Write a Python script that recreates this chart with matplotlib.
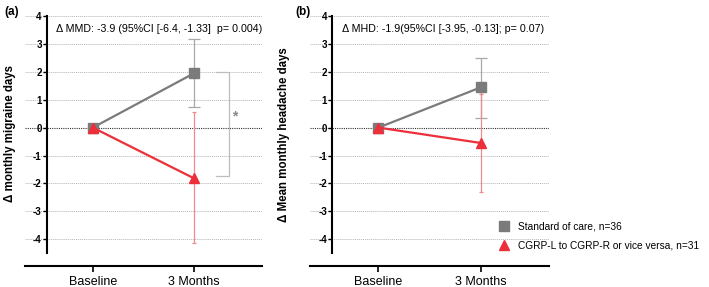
import matplotlib
matplotlib.use('Agg')
import matplotlib.pyplot as plt
from matplotlib.lines import Line2D

plt.rcParams['font.family'] = ['Liberation Sans', 'DejaVu Sans']

# data
timepoints = ['Baseline', '3 Months']
x_pos = [0, 1]

# (a) change in monthly migraine days
mmd_soc = [0, 1.95]
mmd_soc_lo = [0, 0.73]
mmd_soc_hi = [0, 3.17]
mmd_sw = [0, -1.82]
mmd_sw_lo = [0, -4.12]
mmd_sw_hi = [0, 0.55]

# (b) change in mean monthly headache days
mhd_soc = [0, 1.44]
mhd_soc_lo = [0, 0.35]
mhd_soc_hi = [0, 2.51]
mhd_sw = [0, -0.55]
mhd_sw_lo = [0, -2.31]
mhd_sw_hi = [0, 1.21]

yticks = [-4, -3, -2, -1, 0, 1, 2, 3, 4]

soc_color = '#7b7b7b'
soc_err = '#a8a8a8'
sw_color = '#ec2f3b'
sw_err = '#f08a8f'

W, H = 709, 287
fig = plt.figure(figsize=(W / 100, H / 100), dpi=100)


def px_axes(x0, x1, y_top, y_bot):
    return fig.add_axes([x0 / W, 1 - y_bot / H, (x1 - x0) / W, (y_bot - y_top) / H])


def draw_panel(ax, soc, soc_lo, soc_hi, sw, sw_lo, sw_hi):
    ax.set_xlim(-0.67, 1.67)
    ax.set_ylim(-4.96, 4.05)
    for y in yticks:
        if y == 0:
            ax.axhline(y, color='#333333', lw=0.8, ls=(0, (1, 1)), zorder=1)
        else:
            ax.axhline(y, color='#b5b5b5', lw=0.7, ls=(0, (1, 1)), zorder=1)

    # error bars (only at 3 months)
    ax.errorbar(x_pos[1], soc[1], yerr=[[soc[1] - soc_lo[1]], [soc_hi[1] - soc[1]]],
                fmt='none', ecolor=soc_err, elinewidth=0.9, capsize=4, capthick=0.9, zorder=2)
    ax.errorbar(x_pos[1], sw[1], yerr=[[sw[1] - sw_lo[1]], [sw_hi[1] - sw[1]]],
                fmt='none', ecolor=sw_err, elinewidth=0.9, capsize=1.5, capthick=0.9, zorder=2)

    ax.plot(x_pos, soc, color=soc_color, lw=1.6, marker='s', ms=6.5, zorder=3)
    ax.plot(x_pos, sw, color=sw_color, lw=1.6, marker='^', ms=7, zorder=4)

    ax.spines['top'].set_visible(False)
    ax.spines['right'].set_visible(False)
    ax.spines['left'].set_position(('data', -0.45))
    ax.spines['left'].set_bounds(-4.5, 4)
    ax.spines['left'].set_linewidth(1.5)
    ax.spines['bottom'].set_linewidth(1.5)

    ax.set_yticks(yticks)
    ax.set_yticklabels([str(v) for v in yticks], fontsize=7, fontweight='bold')
    ax.tick_params(axis='y', length=3, width=1, pad=1)
    ax.set_xticks(x_pos)
    ax.set_xticklabels(timepoints, fontsize=9)
    ax.tick_params(axis='x', length=4, width=1.2, pad=3)
    ax.patch.set_alpha(0)


# panel (a)
ax1 = px_axes(25, 262, 14.6, 266)
draw_panel(ax1, mmd_soc, mmd_soc_lo, mmd_soc_hi, mmd_sw, mmd_sw_lo, mmd_sw_hi)
ax1.text(-0.36, 3.55, '\u0394 MMD: -3.9 (95%CI [-6.4, -1.33]  p= 0.004)', fontsize=7.7,
         va='center', ha='left')
# significance bracket
bx0, bx1 = 1.22, 1.34
ax1.plot([bx0, bx1, bx1, bx0], [mmd_soc[1] + 0.05, mmd_soc[1] + 0.05, mmd_sw[1] + 0.1, mmd_sw[1] + 0.1],
         color='#bdbdbd', lw=0.9, zorder=2)
ax1.text(1.40, 0.4, '*', fontsize=10, color='#888888', ha='center', va='center', fontweight='bold')

# panel (b)
ax2 = px_axes(310, 549, 14.6, 266)
draw_panel(ax2, mhd_soc, mhd_soc_lo, mhd_soc_hi, mhd_sw, mhd_sw_lo, mhd_sw_hi)
ax2.text(-0.36, 3.55, '\u0394 MHD: -1.9(95%CI [-3.95, -0.13]; p= 0.07)', fontsize=7.7,
         va='center', ha='left')

# y labels and panel letters
fig.text(10 / W, 1 - 133 / H, '\u0394 monthly migraine days', rotation=90, fontsize=8.3,
         fontweight='bold', ha='center', va='center')
fig.text(284 / W, 1 - 135 / H, '\u0394 Mean monthly headache days', rotation=90, fontsize=8.3,
         fontweight='bold', ha='center', va='center')
fig.text(4 / W, 1 - 12 / H, '(a)', fontsize=8.5, fontweight='bold', va='center')
fig.text(295 / W, 1 - 12 / H, '(b)', fontsize=8.5, fontweight='bold', va='center')

handles = [
    Line2D([], [], color=soc_color, marker='s', ls='none', ms=6.5),
    Line2D([], [], color=sw_color, marker='^', ls='none', ms=7.5),
]
labels = ['Standard of care, n=36', 'CGRP-L to CGRP-R or vice versa, n=31']
fig.legend(handles, labels, loc='center left', bbox_to_anchor=(498 / W, 1 - 236 / H),
           frameon=False, fontsize=7.3, handletextpad=0.75, labelspacing=0.95,
           handlelength=1.2, borderaxespad=0, borderpad=0)

fig.savefig('out.png', dpi=100)
